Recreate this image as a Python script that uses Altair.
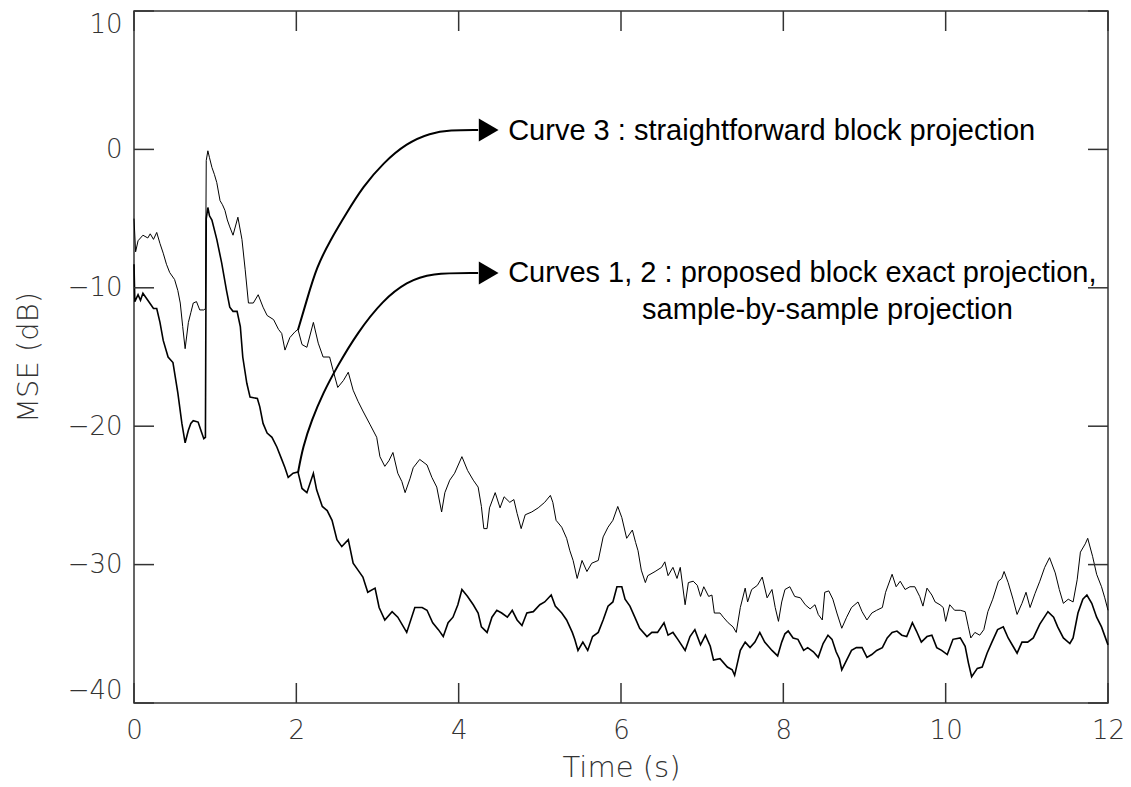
import altair as alt
import pandas as pd

# Curve 3 : straightforward block projection (thin)
t3 = [0.00,0.02,0.05,0.11,0.17,0.20,0.24,0.28,0.32,0.36,0.40,0.44,0.50,0.54,0.57,0.60,0.63,0.67,0.70,0.73,0.77,0.81,0.86,0.88,0.89,0.91,0.93,0.96,0.99,1.02,1.06,1.09,1.12,1.15,1.18,1.22,1.28,1.33,1.37,1.41,1.47,1.53,1.59,1.64,1.72,1.78,1.82,1.86,1.92,1.98,2.02,2.07,2.13,2.21,2.27,2.33,2.41,2.45,2.51,2.58,2.64,2.70,2.76,2.82,2.91,2.99,3.03,3.09,3.14,3.19,3.25,3.30,3.34,3.40,3.44,3.52,3.61,3.67,3.73,3.79,3.83,3.89,3.95,4.04,4.11,4.18,4.24,4.28,4.31,4.35,4.38,4.45,4.51,4.56,4.63,4.68,4.72,4.77,4.82,4.90,4.98,5.06,5.13,5.16,5.20,5.27,5.33,5.37,5.41,5.46,5.52,5.58,5.64,5.72,5.78,5.84,5.90,5.96,6.01,6.07,6.14,6.18,6.21,6.25,6.30,6.33,6.42,6.50,6.54,6.58,6.64,6.69,6.73,6.79,6.83,6.89,6.94,6.98,7.02,7.08,7.12,7.15,7.22,7.26,7.32,7.38,7.42,7.47,7.53,7.56,7.61,7.68,7.74,7.80,7.86,7.90,7.94,7.98,8.02,8.08,8.14,8.21,8.27,8.33,8.39,8.43,8.48,8.51,8.56,8.61,8.66,8.72,8.78,8.84,8.92,8.97,9.03,9.09,9.15,9.22,9.26,9.34,9.39,9.44,9.50,9.56,9.62,9.68,9.72,9.77,9.83,9.87,9.93,9.97,10.00,10.05,10.11,10.18,10.24,10.28,10.31,10.36,10.42,10.47,10.52,10.58,10.65,10.69,10.72,10.77,10.83,10.88,10.94,10.99,11.04,11.10,11.16,11.22,11.28,11.35,11.40,11.45,11.51,11.57,11.62,11.66,11.72,11.75,11.81,11.86,11.92,11.96,12.00]
v3 = [-5.0,-7.4,-6.6,-6.2,-6.4,-6.1,-6.5,-6.0,-6.8,-7.5,-8.3,-8.9,-9.4,-10.2,-11.1,-12.8,-14.4,-12.5,-11.8,-11.1,-11.0,-11.6,-11.6,-11.5,-0.8,-0.1,-0.6,-1.3,-1.8,-2.4,-3.7,-4.0,-4.4,-5.1,-5.6,-6.2,-4.9,-6.5,-8.7,-11.1,-11.1,-10.5,-11.4,-12.0,-12.3,-13.0,-13.3,-14.5,-13.6,-13.2,-13.0,-14.1,-14.3,-12.5,-14.0,-15.0,-15.0,-15.9,-17.2,-16.7,-16.1,-17.4,-18.2,-18.9,-19.9,-20.8,-22.2,-22.9,-22.5,-21.9,-23.4,-24.0,-24.8,-23.8,-23.0,-22.4,-22.8,-23.7,-24.4,-26.2,-24.8,-23.9,-23.4,-22.2,-23.2,-23.9,-24.4,-25.8,-27.4,-27.4,-25.9,-24.8,-25.9,-25.1,-25.5,-25.3,-26.3,-27.4,-26.4,-26.2,-25.9,-25.5,-25.0,-25.5,-26.8,-27.3,-28.1,-29.0,-29.7,-31.0,-29.7,-30.5,-29.9,-29.7,-28.0,-27.3,-26.8,-25.8,-26.6,-28.1,-27.5,-28.4,-29.0,-30.4,-31.3,-30.8,-30.5,-30.2,-29.8,-30.8,-30.2,-31.0,-30.2,-32.9,-31.3,-31.2,-31.5,-32.3,-31.6,-32.3,-32.2,-33.5,-33.5,-33.8,-34.2,-34.5,-34.9,-33.1,-31.7,-32.7,-31.8,-31.5,-30.9,-32.4,-31.8,-33.1,-34.1,-32.7,-31.8,-31.6,-32.3,-32.4,-32.9,-33.2,-32.9,-33.6,-34.0,-32.0,-31.9,-32.5,-33.5,-34.6,-33.8,-33.1,-32.7,-33.4,-34.0,-33.5,-33.3,-33.1,-32.0,-30.7,-31.6,-31.2,-31.8,-31.6,-31.6,-32.3,-33.0,-31.7,-32.2,-32.7,-32.9,-33.1,-34.1,-32.9,-33.3,-33.3,-33.4,-34.5,-35.3,-34.9,-35.1,-34.7,-33.4,-32.5,-31.2,-31.0,-30.5,-31.3,-32.5,-33.6,-32.8,-32.0,-33.1,-32.1,-31.2,-30.2,-29.5,-30.6,-31.8,-32.8,-32.5,-32.7,-31.1,-29.1,-28.5,-28.1,-29.4,-30.7,-31.6,-32.4,-33.3]

# Curves 1, 2 : proposed block exact projection / sample-by-sample projection (thick)
t12 = [0.00,0.01,0.05,0.08,0.11,0.17,0.24,0.28,0.32,0.36,0.42,0.48,0.54,0.59,0.63,0.67,0.70,0.73,0.79,0.83,0.86,0.88,0.89,0.91,0.93,0.96,1.02,1.08,1.14,1.18,1.22,1.27,1.31,1.34,1.39,1.43,1.52,1.55,1.59,1.64,1.70,1.76,1.82,1.86,1.90,1.96,2.02,2.07,2.13,2.21,2.25,2.32,2.38,2.44,2.50,2.56,2.64,2.70,2.76,2.82,2.88,2.97,3.02,3.09,3.18,3.25,3.36,3.46,3.55,3.61,3.68,3.75,3.81,3.87,3.93,3.99,4.04,4.11,4.18,4.24,4.28,4.35,4.41,4.47,4.53,4.60,4.66,4.72,4.78,4.84,4.92,5.00,5.06,5.14,5.19,5.27,5.33,5.40,5.43,5.47,5.53,5.59,5.65,5.72,5.78,5.84,5.90,5.95,6.01,6.05,6.11,6.17,6.23,6.32,6.38,6.45,6.53,6.58,6.64,6.70,6.79,6.85,6.91,6.98,7.04,7.10,7.14,7.22,7.31,7.37,7.40,7.47,7.53,7.59,7.65,7.71,7.77,7.86,7.93,7.98,8.02,8.06,8.12,8.18,8.25,8.30,8.37,8.43,8.49,8.55,8.60,8.65,8.69,8.72,8.78,8.84,8.90,8.97,9.03,9.09,9.15,9.22,9.28,9.34,9.40,9.46,9.52,9.59,9.64,9.70,9.77,9.83,9.89,9.95,10.02,10.09,10.18,10.24,10.28,10.32,10.39,10.45,10.51,10.57,10.64,10.71,10.77,10.83,10.88,10.94,11.01,11.08,11.16,11.26,11.33,11.38,11.45,11.53,11.57,11.63,11.69,11.74,11.80,11.86,11.92,12.00]
v12 = [-8.3,-11.0,-10.5,-10.9,-10.4,-10.9,-11.5,-11.5,-12.5,-13.8,-15.0,-15.4,-17.6,-19.8,-21.2,-20.3,-19.8,-19.6,-19.7,-20.4,-20.9,-20.8,-5.0,-4.2,-4.8,-5.1,-6.5,-8.2,-10.2,-11.4,-11.7,-11.7,-12.8,-15.0,-16.9,-17.9,-18.0,-18.6,-19.8,-20.5,-20.8,-21.5,-22.4,-23.0,-23.7,-23.4,-23.3,-24.5,-24.8,-23.4,-24.6,-25.8,-26.1,-26.8,-28.2,-28.7,-28.2,-29.9,-30.4,-30.9,-32.0,-31.7,-33.1,-34.0,-33.4,-33.8,-34.9,-33.1,-33.1,-33.3,-34.2,-34.7,-35.2,-34.2,-33.8,-32.9,-31.8,-32.3,-32.9,-33.5,-34.5,-34.9,-33.8,-33.3,-33.5,-33.8,-33.3,-34.0,-34.4,-33.5,-33.4,-32.9,-32.7,-32.2,-33.0,-33.5,-34.0,-34.9,-35.4,-36.2,-35.6,-36.2,-35.2,-34.9,-34.0,-33.0,-32.7,-31.6,-31.6,-32.5,-33.0,-33.8,-34.6,-35.2,-34.9,-34.9,-34.2,-35.1,-34.9,-35.4,-36.2,-35.2,-34.7,-35.8,-35.1,-35.9,-36.9,-36.8,-37.4,-37.6,-38.0,-36.2,-35.6,-36.0,-35.6,-34.9,-35.6,-36.2,-36.6,-35.6,-35.0,-34.8,-35.3,-35.4,-36.2,-36.0,-36.3,-36.7,-35.7,-35.1,-35.4,-36.3,-36.8,-37.6,-36.9,-36.2,-36.0,-36.0,-36.7,-36.5,-36.2,-36.0,-35.3,-34.9,-34.8,-35.1,-35.2,-34.2,-34.8,-35.6,-35.2,-35.1,-36.0,-36.2,-36.5,-35.4,-35.3,-35.9,-37.1,-38.1,-37.5,-37.4,-36.4,-35.6,-34.7,-34.5,-35.3,-35.9,-36.4,-35.6,-35.6,-35.3,-34.3,-33.4,-33.8,-34.5,-35.3,-35.7,-35.3,-33.5,-32.5,-32.2,-32.8,-33.8,-34.5,-35.8]

# annotation arrows (data coordinates)
arrow3_t = [2.02,2.13,2.25,2.42,2.62,2.82,3.07,3.36,3.65,3.89,4.24]
arrow3_v = [-13.05,-10.87,-8.50,-6.54,-4.58,-2.70,-0.98,0.46,1.18,1.40,1.40]
arrow12_t = [2.02,2.08,2.19,2.33,2.50,2.75,3.07,3.36,3.65,4.24]
arrow12_v = [-23.38,-21.50,-19.55,-17.60,-15.72,-13.26,-10.87,-9.58,-8.93,-8.93]
head_t = [4.37, 4.37]
head_v = [1.40, -8.93]

labels_text = ["Curve 3 : straightforward block projection",
               "Curves 1, 2 : proposed block exact projection,",
               "sample-by-sample projection"]
labels_t = [4.61, 4.61, 6.26]
labels_v = [1.33, -8.93, -11.6]

x_ticks = [0, 2, 4, 6, 8, 10, 12]
y_ticks = [-40, -30, -20, -10, 0, 10]

W, H = 974, 692
AX_FONT = "DejaVu Sans"
INK = "#333333"

xs = alt.Scale(domain=[0, 12], nice=False, zero=False)
ys = alt.Scale(domain=[-40, 10], nice=False, zero=False)

df3 = pd.DataFrame({"t": t3, "v": v3})
df12 = pd.DataFrame({"t": t12, "v": v12})

base_x = alt.X("t:Q", scale=xs,
               axis=alt.Axis(values=x_ticks, title="Time (s)", format="d", labelFlush=False))
base_y = alt.Y("v:Q", scale=ys,
               axis=alt.Axis(values=y_ticks, title="MSE (dB)", format="d", labelFlush=True))

curve3 = alt.Chart(df3).mark_line(color="black", strokeWidth=1.0).encode(
    x=base_x, y=base_y)
curve12 = alt.Chart(df12).mark_line(color="black", strokeWidth=1.6).encode(
    x=alt.X("t:Q", scale=xs), y=alt.Y("v:Q", scale=ys))

arrows_df = pd.DataFrame({
    "t": arrow3_t + arrow12_t,
    "v": arrow3_v + arrow12_v,
    "g": ["a3"] * len(arrow3_t) + ["a12"] * len(arrow12_t),
})
arrows = alt.Chart(arrows_df).mark_line(color="black", strokeWidth=2, interpolate="basis").encode(
    x=alt.X("t:Q", scale=xs), y=alt.Y("v:Q", scale=ys), detail="g:N")

heads = alt.Chart(pd.DataFrame({"t": head_t, "v": head_v})).mark_point(
    shape="triangle-right", filled=True, color="black", size=520, opacity=1).encode(
    x=alt.X("t:Q", scale=xs), y=alt.Y("v:Q", scale=ys))

texts = alt.Chart(pd.DataFrame({"t": labels_t, "v": labels_v, "s": labels_text})).mark_text(
    align="left", baseline="middle", font="Liberation Sans", fontSize=29, color="black").encode(
    x=alt.X("t:Q", scale=xs), y=alt.Y("v:Q", scale=ys), text="s:N")

# inward ticks on all four sides
xt = pd.DataFrame({"t": x_ticks})
yt = pd.DataFrame({"v": y_ticks})
tick_style = dict(color=INK, strokeWidth=1.5)
bottom_ticks = alt.Chart(xt).mark_rule(**tick_style).encode(
    x=alt.X("t:Q", scale=xs), y=alt.value(H), y2=alt.value(H - 20))
top_ticks = alt.Chart(xt).mark_rule(**tick_style).encode(
    x=alt.X("t:Q", scale=xs), y=alt.value(0), y2=alt.value(20))
left_ticks = alt.Chart(yt).mark_rule(**tick_style).encode(
    y=alt.Y("v:Q", scale=ys), x=alt.value(0), x2=alt.value(20))
right_ticks = alt.Chart(yt).mark_rule(**tick_style).encode(
    y=alt.Y("v:Q", scale=ys), x=alt.value(W), x2=alt.value(W - 20))

chart = alt.layer(
    curve3, curve12, arrows, heads, texts,
    bottom_ticks, top_ticks, left_ticks, right_ticks,
).properties(
    width=W, height=H,
    autosize=alt.AutoSizeParams(type="none"),
    padding={"left": 134, "top": 11, "right": 23, "bottom": 84},
).configure_view(
    stroke=INK, strokeWidth=1.5,
).configure_axis(
    grid=False, ticks=False, domain=False,
    labelFont=AX_FONT, labelFontWeight=200, labelFontSize=26, labelColor=INK,
    titleFont=AX_FONT, titleFontWeight=200, titleFontSize=29, titleColor=INK,
).configure_axisX(
    labelPadding=14, titlePadding=10,
).configure_axisY(
    labelPadding=12, titlePadding=24,
)

chart.save("out.html", embed_options={"renderer": "svg", "actions": False})
